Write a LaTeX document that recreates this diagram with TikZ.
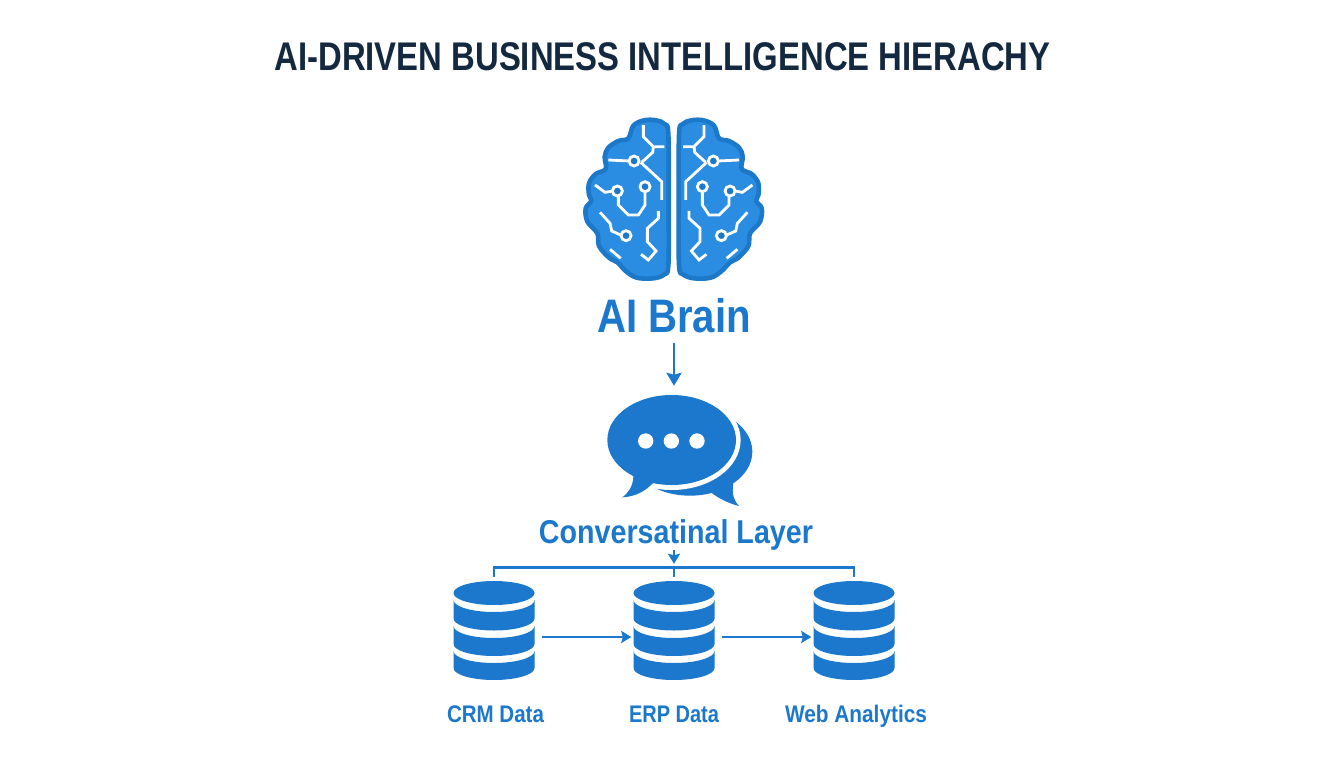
\documentclass[tikz,border=0pt]{standalone}
\usepackage{fontspec}
\setmainfont{Liberation Sans}
\usetikzlibrary{arrows.meta}
\definecolor{ink}{HTML}{14293F}
\definecolor{brand}{HTML}{1B78CC}
\definecolor{brainfill}{HTML}{2A8DE2}
\definecolor{braindark}{HTML}{1C78C8}
\tikzset{
  lbl/.style={inner sep=0pt,anchor=base,text=brand,font=\bfseries},
  holder/.style={inner sep=0pt,draw=none,fill=none},
  trace/.style={draw=white,line width=2.8pt,line join=miter},
  ring/.style={draw=white,line width=2.8pt,fill=braindark},
  conn/.style={draw=brand,line width=2.8pt},
  tip/.style={-{Stealth[length=13pt,width=15pt,inset=2pt]}},
  smalltip/.style={-{Stealth[length=10pt,width=12pt,inset=1.5pt]}}
}
\newcommand{\hemi}[1]{%
\begin{scope}[shift={(673.7,105)},scale=1/3,xscale=#1,shift={(-311,0)}]
  \path[fill=brainfill,draw=braindark,line width=4.6pt,line join=round]
    plot[smooth cycle,tension=0.6] coordinates {(295,90)(285,58)(258,46)(222,46)(190,62)(175,100)(145,108)(115,128)(104,155)(107,192)(77,207)(57,235)(57,270)(64,288)(47,310)(52,350)(82,385)(87,423)(117,458)(142,472)(167,498)(200,518)(250,520)(283,508)(295,480)(296,300)};
  \path[trace] (220,60)--(220,95)--(250,125)--(283,125) (250,125)--(248,142)--(215,172);
  \path[trace] (115,165)--(178,168) (212,172)--(275,230)--(275,285);
  \path[trace] (75,240)--(105,262)--(128,258) (145,272)--(145,300)--(175,330)--(205,330)--(225,300)--(225,258);
  \path[trace] (90,322)--(120,355)--(125,378)--(152,390);
  \path[trace] (265,318)--(265,340)--(232,370)--(232,410)--(258,438)--(235,465)--(213,448);
  \path[trace] (120,433)--(152,460);
  \path[ring] (192,168) circle (15);
  \path[ring] (142,258) circle (15);
  \path[ring] (225,245) circle (15);
  \path[ring] (168,392) circle (15);
\end{scope}}
\newcommand{\band}[2]{(-40.5,#1) .. controls (-40.5,#1+6.6) and (-22.4,#1+12) .. (0,#1+12) .. controls (22.4,#1+12) and (40.5,#1+6.6) .. (40.5,#1) -- (40.5,#2) .. controls (40.5,#2+6.6) and (22.4,#2+12) .. (0,#2+12) .. controls (-22.4,#2+12) and (-40.5,#2+6.6) .. (-40.5,#2) -- cycle}
\newcommand{\dbicon}[1]{%
\begin{scope}[shift={(#1,0)}]
  \fill[brand] (0,593) ellipse [x radius=40.5,y radius=12];
  \fill[brand] \band{600}{618.5};
  \fill[brand] \band{626}{644};
  \fill[brand] \band{651}{668};
\end{scope}}
\begin{document}
\begin{tikzpicture}[x=1pt,y=-1pt]
\useasboundingbox (0,0) rectangle (1344,768);
\fill[white] (0,0) rectangle (1344,768);

\node[inner sep=0pt,anchor=base,text=ink,font=\bfseries] (title) at (662.5,70.5)
  {\resizebox{776pt}{\height}{\fontsize{40}{40}\selectfont AI-DRIVEN BUSINESS INTELLIGENCE HIERACHY}};

% brain
\hemi{1}
\hemi{-1}
\node[lbl] (brainlabel) at (674,332) {\resizebox{154pt}{\height}{\fontsize{47}{47}\selectfont AI Brain}};

% chat bubbles
\begin{scope}[shift={(590,380)},scale=1/3]
  \fill[brand] (300,215) ellipse [x radius=187,y radius=132];
  \fill[brand] (360,335) .. controls (385,355) and (415,370) .. (447,378) .. controls (430,360) and (425,340) .. (430,310) -- cycle;
  \fill[white] (245,180) ellipse [x radius=207,y radius=150];
  \fill[brand] (245,180) ellipse [x radius=193,y radius=135];
  \fill[brand] (130,280) .. controls (132,310) and (120,335) .. (97,352) .. controls (135,350) and (165,335) .. (190,308) -- cycle;
  \fill[white] (167,183) circle (23);
  \fill[white] (244,183) circle (23);
  \fill[white] (321,183) circle (23);
\end{scope}
\node[holder,minimum width=130pt,minimum height=111pt] (bubble) at (674,450.5) {};
\node[lbl] (conv) at (676,543) {\resizebox{274pt}{\height}{\fontsize{33}{33}\selectfont Conversatinal Layer}};

% databases
\dbicon{494}
\dbicon{674}
\dbicon{854}
\node[holder,minimum width=81pt,minimum height=98pt] (crm) at (494,630) {};
\node[holder,minimum width=81pt,minimum height=98pt] (erp) at (674,630) {};
\node[holder,minimum width=81pt,minimum height=98pt] (web) at (854,630) {};
\node[lbl] (crml) at (495.5,722) {\resizebox{97pt}{\height}{\fontsize{24}{24}\selectfont CRM Data}};
\node[lbl] (erpl) at (674,722) {\resizebox{90pt}{\height}{\fontsize{24}{24}\selectfont ERP Data}};
\node[lbl] (webl) at (856,722) {\resizebox{142pt}{\height}{\fontsize{24}{24}\selectfont Web Analytics}};

% connectors
\draw[conn,tip,shorten <=10pt,shorten >=9pt] (brainlabel.south) -- (bubble.north);
\draw[conn,smalltip] (conv.south -| erp.north) -- ([yshift=17pt]erp.north);
\draw[conn] ([yshift=4pt]crm.north) -- ([yshift=13pt]crm.north) -- ([yshift=13pt]web.north) -- ([yshift=4pt]web.north);
\draw[conn] ([yshift=13pt]erp.north) -- ([yshift=4pt]erp.north);
\draw[conn,smalltip] ([xshift=7pt,yshift=-7pt]crm.east) -- ([xshift=-2pt,yshift=-7pt]erp.west);
\draw[conn,smalltip] ([xshift=7pt,yshift=-7pt]erp.east) -- ([xshift=-2pt,yshift=-7pt]web.west);
\end{tikzpicture}
\end{document}
